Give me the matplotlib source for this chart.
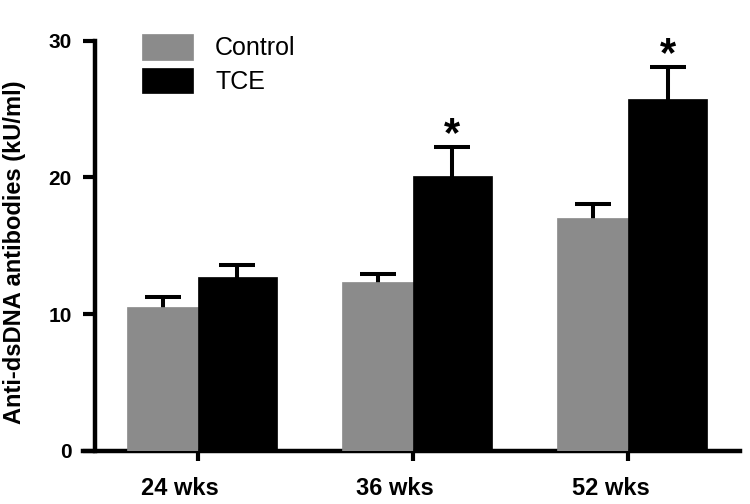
import matplotlib
matplotlib.use("Agg")
import matplotlib.pyplot as plt
import matplotlib.transforms as mtransforms
import numpy as np

# data
groups = ["24 wks", "36 wks", "52 wks"]
control_mean = [10.55, 12.35, 17.0]
control_sem = [0.7, 0.55, 1.05]
tce_mean = [12.75, 20.1, 25.7]
tce_sem = [0.85, 2.1, 2.35]
tce_signif = [False, True, True]

plt.rcParams['font.family'] = ['Liberation Sans', 'DejaVu Sans']

fig = plt.figure(figsize=(7.5, 5.04), dpi=100)
ax = fig.add_axes([83 / 750, 1 - 451 / 504, (740 - 83) / 750, (451 - 40.5) / 504])

x = np.arange(len(groups))
w_ctrl = 0.331
w_tce = 0.364

ax.bar(x - w_ctrl / 2, control_mean, width=w_ctrl, color='#8b8b8b',
       edgecolor='#8b8b8b', linewidth=0.5, label='Control', zorder=3)
ax.bar(x + w_tce / 2, tce_mean, width=w_tce, color='black',
       edgecolor='black', linewidth=0.5, label='TCE', zorder=3)

# symmetric bars drawn behind the columns, so only the upper half shows
err_kw = dict(fmt='none', ecolor='black', elinewidth=2.9, capsize=13, capthick=2.9, zorder=2)
ax.errorbar(x - w_ctrl / 2, control_mean, yerr=control_sem, **err_kw)
ax.errorbar(x + w_tce / 2, tce_mean, yerr=tce_sem, **err_kw)

# significance stars
for xi, m, s, sig in zip(x, tce_mean, tce_sem, tce_signif):
    if sig:
        ax.annotate('*', xy=(xi + w_tce / 2, m + s), xytext=(0, -6),
                    textcoords='offset points', ha='center', va='bottom',
                    fontsize=30, fontweight='bold', annotation_clip=False)

ax.set_xlim(-0.536, 2.519)
ax.set_ylim(0, 30)
ax.set_yticks([0, 10, 20, 30])
ax.set_xticks(x)
ax.set_xticklabels(groups)

for side in ['top', 'right']:
    ax.spines[side].set_visible(False)
ax.spines['left'].set_position(('data', -0.481))
ax.spines['left'].set_bounds(0, 30)
ax.spines['left'].set_linewidth(3.2)
ax.spines['bottom'].set_linewidth(3.2)

ax.tick_params(axis='y', length=8.6, width=3.0, pad=8, labelsize=15)
ax.tick_params(axis='x', length=7, width=3.0, pad=12, labelsize=17)
for lab in ax.get_yticklabels() + ax.get_xticklabels():
    lab.set_fontweight('bold')

# x labels sit a bit left of the ticks in the reference
shift = mtransforms.ScaledTranslation(-18 / 100, 0, fig.dpi_scale_trans)
for lab in ax.get_xticklabels():
    lab.set_transform(lab.get_transform() + shift)

ax.set_ylabel('Anti-dsDNA antibodies (kU/ml)', fontsize=17, fontweight='bold')
ax.yaxis.set_label_coords(26 / 750, 0.5, transform=fig.transFigure)

leg = ax.legend(loc='upper left', bbox_to_anchor=(142 / 750, 1 - 34 / 504),
                bbox_transform=fig.transFigure, frameon=False, fontsize=18,
                handlelength=2.03, handleheight=1.2, handletextpad=0.9,
                labelspacing=0.3, borderpad=0, borderaxespad=0)

fig.savefig('out.png', dpi=100, facecolor='white')
